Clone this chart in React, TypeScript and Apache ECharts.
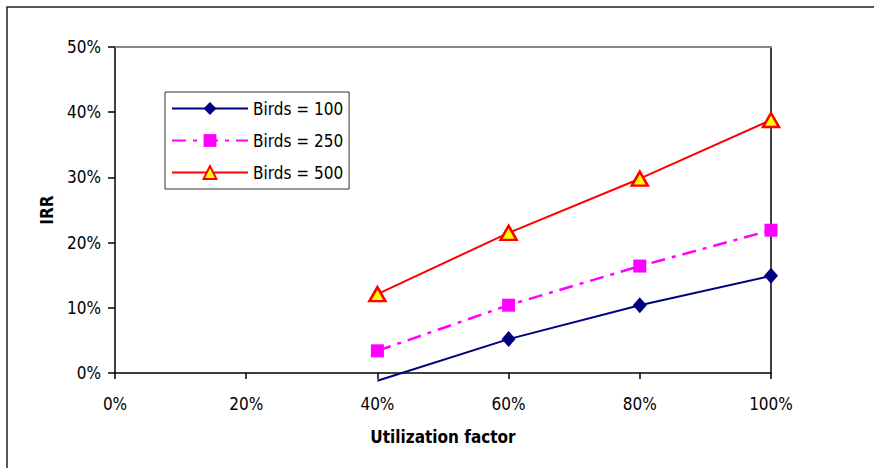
import React, { useEffect, useRef } from "react";
import * as echarts from "echarts";

// Utilization factor (x) and IRR (y) for each flock size
const utilization = [0.4, 0.6, 0.8, 1.0];
const irrBirds100 = [-0.012, 0.052, 0.104, 0.149];
const irrBirds250 = [0.034, 0.104, 0.164, 0.219];
const irrBirds500 = [0.121, 0.215, 0.298, 0.388];
const seriesNames = ["Birds = 100", "Birds = 250", "Birds = 500"];
const xTicks = [0, 0.2, 0.4, 0.6, 0.8, 1.0];
const yTicks = [0, 0.1, 0.2, 0.3, 0.4, 0.5];

const FONT = "'DejaVu Sans Condensed', 'Liberation Sans', Arial, sans-serif";
const pct = (v: number) => `${Math.round(v * 100)}%`;

const pairs = (ys: number[]) => utilization.map((x, i) => [x, ys[i]]);

export default function App() {
  const ref = useRef<HTMLDivElement>(null);

  useEffect(() => {
    if (!ref.current) return;
    const chart = echarts.init(ref.current, null, { renderer: "svg" });

    // the first Birds = 100 point falls below the axis: line reaches it, marker does not
    const birds100 = pairs(irrBirds100).map((p) =>
      p[1] < 0 ? { value: p, symbol: "none" } : { value: p }
    );

    chart.setOption({
      animation: false,
      backgroundColor: "#ffffff",
      textStyle: { fontFamily: FONT },
      graphic: [
        {
          type: "rect",
          shape: { x: 7, y: 7, width: 900, height: 500 },
          style: { fill: "none", stroke: "#222", lineWidth: 1.5 },
          silent: true,
        },
      ],
      grid: { left: 115, right: 103, top: 47, bottom: 95, containLabel: false },
      legend: {
        left: 165,
        top: 92,
        orient: "vertical",
        data: seriesNames,
        backgroundColor: "#ffffff",
        borderColor: "#333",
        borderWidth: 1,
        borderRadius: 0,
        padding: [8, 6, 8, 6],
        itemWidth: 76,
        itemHeight: 16,
        itemGap: 15,
        textStyle: { fontFamily: FONT, fontSize: 17, color: "#000" },
      },
      xAxis: [
        {
          type: "value",
          min: xTicks[0],
          max: xTicks[xTicks.length - 1],
          interval: 0.2,
          name: "Utilization factor",
          nameLocation: "middle",
          nameGap: 55,
          nameTextStyle: { fontFamily: FONT, fontSize: 17, fontWeight: "bold", color: "#000" },
          axisLine: { onZero: false, lineStyle: { color: "#000", width: 1.5 } },
          axisTick: { show: true, inside: false, length: 6, lineStyle: { color: "#000", width: 1.5 } },
          axisLabel: { formatter: pct, margin: 22, fontSize: 17, color: "#000", fontFamily: FONT },
          splitLine: { show: false },
        },
        {
          type: "value",
          position: "top",
          min: xTicks[0],
          max: xTicks[xTicks.length - 1],
          axisLine: { show: true, onZero: false, lineStyle: { color: "#888", width: 2 } },
          axisTick: { show: false },
          axisLabel: { show: false },
          splitLine: { show: false },
        },
      ],
      yAxis: [
        {
          type: "value",
          min: yTicks[0],
          max: yTicks[yTicks.length - 1],
          interval: 0.1,
          name: "IRR",
          nameLocation: "middle",
          nameGap: 60,
          nameTextStyle: { fontFamily: FONT, fontSize: 17, fontWeight: "bold", color: "#000" },
          axisLine: { show: true, onZero: false, lineStyle: { color: "#000", width: 1.5 } },
          axisTick: { show: true, inside: false, length: 7, lineStyle: { color: "#000", width: 1.5 } },
          axisLabel: { formatter: pct, margin: 14, fontSize: 17, color: "#000", fontFamily: FONT },
          splitLine: { show: false },
        },
        {
          type: "value",
          position: "right",
          min: yTicks[0],
          max: yTicks[yTicks.length - 1],
          axisLine: { show: true, onZero: false, lineStyle: { color: "#000", width: 1.5 } },
          axisTick: { show: false },
          axisLabel: { show: false },
          splitLine: { show: false },
        },
      ],
      series: [
        {
          name: seriesNames[0],
          type: "line",
          clip: false,
          data: birds100,
          symbol: "diamond",
          symbolSize: [14, 16],
          lineStyle: { color: "#000080", width: 2 },
          itemStyle: { color: "#000080" },
        },
        {
          name: seriesNames[1],
          type: "line",
          clip: false,
          data: pairs(irrBirds250),
          symbol: "rect",
          symbolSize: 13,
          lineStyle: { color: "#ff00ff", width: 2.5, type: [14, 7, 4, 7] },
          itemStyle: { color: "#ff00ff" },
        },
        {
          name: seriesNames[2],
          type: "line",
          clip: false,
          data: pairs(irrBirds500),
          symbol: "triangle",
          symbolSize: [16, 14],
          lineStyle: { color: "#ff0000", width: 2 },
          itemStyle: { color: "#ffff00", borderColor: "#ff0000", borderWidth: 2.5 },
        },
      ],
    });

    return () => chart.dispose();
  }, []);

  return (
    <div
      ref={ref}
      style={{ position: "fixed", left: 0, top: 0, width: 874, height: 468 }}
    />
  );
}
